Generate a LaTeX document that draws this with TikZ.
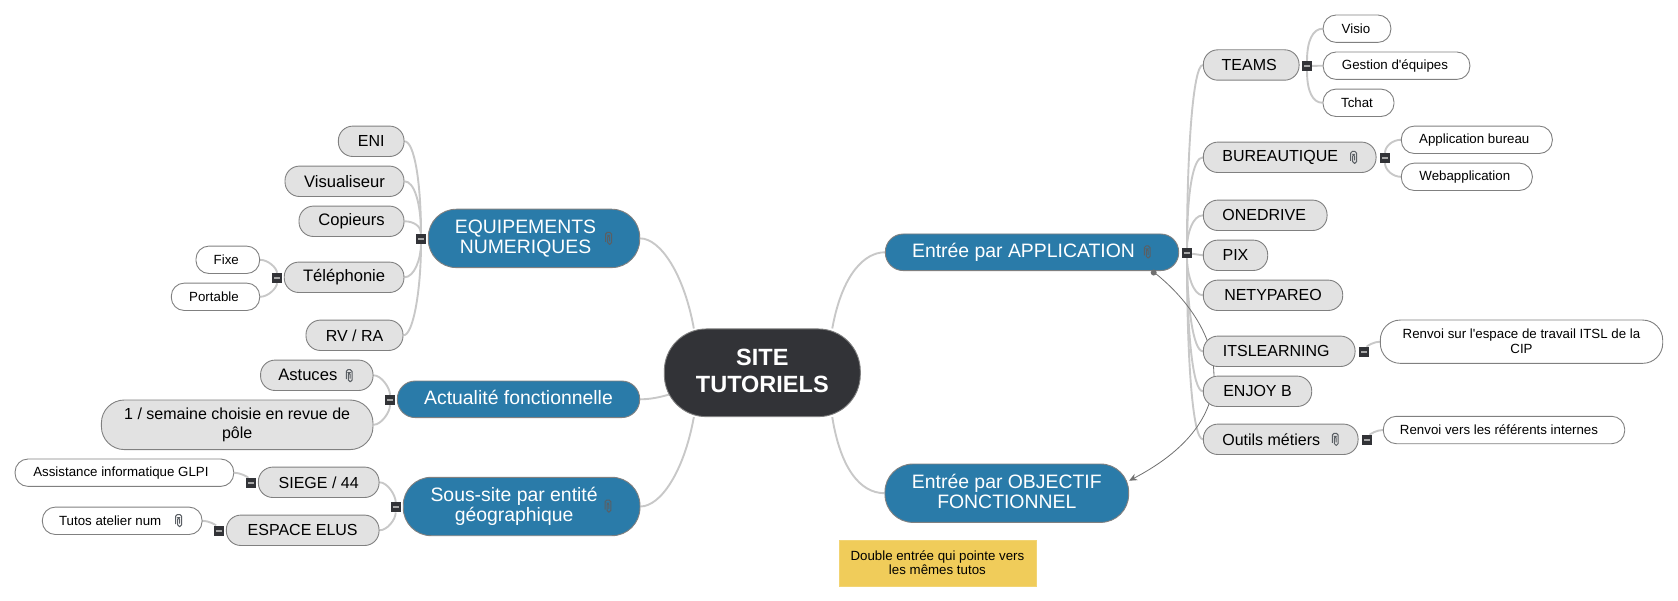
\documentclass[tikz,border=0pt]{standalone}
\usepackage{fontspec}
\setmainfont{Liberation Sans}
\newfontfamily\lfont{Liberation Sans}
\usetikzlibrary{arrows.meta}
\pgfdeclarelayer{bg}
\pgfsetlayers{bg,main}
\definecolor{bluec}{HTML}{2A7BA9}
\definecolor{darkc}{HTML}{323337}
\definecolor{greyc}{HTML}{E2E2E2}
\definecolor{edgec}{HTML}{808080}
\definecolor{linkc}{HTML}{C8C8C8}
\definecolor{relc}{HTML}{707070}
\definecolor{clipc}{HTML}{5A5F64}
\definecolor{notec}{HTML}{F0CC5A}
\definecolor{barc}{HTML}{A8A8A8}
\tikzset{
  base/.style={draw=edgec,line width=0.9pt,inner sep=0pt,align=center},
  rootn/.style={base,fill=darkc,text=white,rounded corners=42pt,minimum height=87.7pt,text depth=5pt,
    font=\lfont\bfseries\fontsize{23.5}{27}\selectfont},
  mainn/.style={base,fill=bluec,text=white,font=\lfont\fontsize{19.4}{20}\selectfont},
  subn/.style={base,fill=greyc,text=black,rounded corners=14.5pt,minimum height=30.4pt,
    font=\lfont\fontsize{16}{18.6}\selectfont},
  lowern/.style={font=\lfont\fontsize{16.6}{18.6}\selectfont},
  leafn/.style={base,fill=white,text=black,rounded corners=13pt,minimum height=27.4pt,
    font=\lfont\fontsize{13.3}{15}\selectfont},
  minusn/.style={inner sep=0pt,fill=darkc,minimum size=10pt,text=barc,font=\fontsize{1}{1}\selectfont},
  notenode/.style={fill=notec,draw=notec!85!white,line width=0.5pt,inner sep=0pt,align=center,text=black,
    font=\lfont\fontsize{13.3}{14.5}\selectfont},
  link/.style={draw=linkc,line width=1.9pt},
  rel/.style={draw=relc,line width=0.8pt},
  clipicon/.pic={\draw[clipc,line width=1pt,rounded corners=1.7pt]
    (0.8,3) -- (0.8,-3) -- (-1,-3) -- (-1,6) -- (2.8,6) -- (2.8,-6) -- (-3,-6) -- (-3,3.5);}
}
\newcommand{\mbar}{\rule{6pt}{2pt}}
\begin{document}
\begin{tikzpicture}[x=1pt,y=-1pt]
\useasboundingbox (0,0) rectangle (1678,601);
% root
\node[rootn,minimum width=196pt] (site) at (762.3,372.8) {SITE\\TUTORIELS};
% main
\node[mainn,minimum width=211.4pt,minimum height=58.4pt,rounded corners=28pt] (equip) at (534,238.4) {EQUIPEMENTS\kern17pt\\NUMERIQUES\kern17pt};
\node[mainn,minimum width=242.4pt,minimum height=36.6pt,rounded corners=18pt,text depth=3pt] (actu) at (518.5,399.3) {Actualité fonctionnelle};
\node[mainn,minimum width=236.7pt,minimum height=58.4pt,rounded corners=28pt] (sous) at (521.6,506.5) {Sous-site par entité\kern15pt\\géographique\kern15pt};
\node[mainn,minimum width=293.4pt,minimum height=36.6pt,rounded corners=18pt] (app) at (1032,252.3) {Entrée par APPLICATION\kern17pt};
\node[mainn,minimum width=243.7pt,minimum height=58.4pt,rounded corners=28pt,text depth=3pt] (obj) at (1006.8,493.2) {Entrée par OBJECTIF\\FONCTIONNEL};
% right sub
\node[subn,minimum width=95.7pt] (teams) at (1251.2,65) {TEAMS\kern4pt};
\node[subn,minimum width=172.7pt] (bur) at (1289.7,157.3) {BUREAUTIQUE\kern19pt};
\node[subn,minimum width=123.7pt] (one) at (1265.2,215.3) {ONEDRIVE\kern2pt};
\node[subn,minimum width=64.4pt] (pix) at (1235.5,255.3) {PIX};
\node[subn,minimum width=139.4pt] (net) at (1273,295.3) {NETYPAREO};
\node[subn,minimum width=151.7pt] (its) at (1279.2,351.3) {ITSLEARNING\kern6pt};
\node[subn,minimum width=108.4pt] (enj) at (1257.5,391.3) {ENJOY B};
\node[subn,minimum width=154.7pt] (out) at (1280.7,439.3) {Outils métiers\kern19pt};
% right leaves
\node[leafn,minimum width=67.7pt] (visio) at (1357,28.7) {Visio\kern2pt};
\node[leafn,minimum width=146.7pt] (gest) at (1396.5,65.7) {Gestion d'équipes\kern3pt};
\node[leafn,minimum width=71pt] (tchat) at (1358.5,102.8) {Tchat\kern3pt};
\node[leafn,minimum width=151pt] (appb) at (1476.8,139.8) {Application bureau\kern5pt};
\node[leafn,minimum width=131pt] (web) at (1466.8,176.8) {Webapplication\kern4pt};
\node[leafn,minimum width=282.4pt,minimum height=43.3pt,rounded corners=20pt] (renvA) at (1521.5,341.7) {Renvoi sur l'espace de travail ITSL de la\\CIP};
\node[leafn,minimum width=241.4pt] (renvB) at (1504,430) {Renvoi vers les référents internes\kern10pt};
% left sub
\node[subn,minimum width=65.7pt] (eni) at (371.2,141.3) {ENI};
\node[subn,lowern,minimum width=119pt] (vis) at (344.5,181.3) {Visualiseur};
\node[subn,lowern,minimum width=105pt] (cop) at (351.5,221.3) {Copieurs};
\node[subn,lowern,minimum width=119.7pt] (tel) at (344.1,277.3) {Téléphonie};
\node[subn,minimum width=97pt] (rv) at (354.5,335.3) {RV / RA};
\node[subn,lowern,minimum width=112.5pt] (ast) at (316.8,375.3) {Astuces\kern18pt};
\node[subn,minimum width=271.6pt,minimum height=49.6pt,rounded corners=23pt] (sem) at (237.2,424.8) {1 / semaine choisie en revue de\\pôle};
\node[subn,minimum width=120.7pt] (siege) at (318.7,482.3) {SIEGE / 44};
\node[subn,minimum width=152.7pt] (esp) at (302.7,530.3) {ESPACE ELUS};
% left leaves
\node[leafn,minimum width=63.7pt] (fixe) at (227.8,259.8) {Fixe\kern3pt};
\node[leafn,minimum width=88.4pt] (port) at (215.5,296.8) {Portable\kern3pt};
\node[leafn,minimum width=218.7pt] (assi) at (124.4,472.7) {Assistance informatique GLPI\kern7pt};
\node[leafn,minimum width=159.7pt] (tuto) at (122.2,520.8) {Tutos atelier num\kern24pt};
% note
\node[notenode,minimum width=196.7pt,minimum height=45.7pt] (note) at (937.4,562.9) {Double entrée qui pointe vers\\les mêmes tutos};
% collapse boxes
\node[minusn] (mteams) at (1307,66) {\mbar};
\node[minusn] (mbur) at (1385,158) {\mbar};
\node[minusn] (mapp) at (1187,253) {\mbar};
\node[minusn] (mits) at (1364,352) {\mbar};
\node[minusn] (mout) at (1367,440) {\mbar};
\node[minusn] (mequip) at (421,238.7) {\mbar};
\node[minusn] (mtel) at (277,278) {\mbar};
\node[minusn] (mactu) at (390,400) {\mbar};
\node[minusn] (msous) at (395.7,507.3) {\mbar};
\node[minusn] (msiege) at (251,483) {\mbar};
\node[minusn] (mesp) at (218.7,530.7) {\mbar};
% paperclips
\pic at (608.7,238.3) {clipicon};
\pic at (608,506) {clipicon};
\pic at (1147.3,252) {clipicon};
\pic at (1353.7,157.3) {clipicon};
\pic at (1335.3,439.3) {clipicon};
\pic at (349.3,375.7) {clipicon};
\pic at (178.7,520.5) {clipicon};
% connectors
\begin{pgfonlayer}{bg}
\path[link] ([xshift=30pt]site.north west) .. controls +(-10,-55) and +(20,0) .. (equip.east);
\path[link] ([xshift=6pt,yshift=-21.5pt]site.west) .. controls +(-10,3) and +(10,0) .. (actu.east);
\path[link] ([xshift=30pt]site.south west) .. controls +(-10,55) and +(20,0) .. (sous.east);
\path[link] ([xshift=-28.5pt]site.north east) .. controls +(10,-55) and +(-20,0) .. (app.west);
\path[link] ([xshift=-28.5pt]site.south east) .. controls +(8,50) and +(-25,0) .. (obj.west);
% application
\path[link] (mapp) .. controls +(0,-100) and +(-10,0) .. (teams.west);
\path[link] (mapp) .. controls +(0,-60) and +(-10,0) .. (bur.west);
\path[link] (mapp) .. controls +(0,-20) and +(-10,0) .. (one.west);
\path[link] (mapp) -- (pix.west);
\path[link] (mapp) .. controls +(0,20) and +(-10,0) .. (net.west);
\path[link] (mapp) .. controls +(0,50) and +(-10,0) .. (its.west);
\path[link] (mapp) .. controls +(0,80) and +(-10,0) .. (enj.west);
\path[link] (mapp) .. controls +(0,110) and +(-10,0) .. (out.west);
\path[link] (mteams) .. controls +(0,-25) and +(-10,0) .. (visio.west);
\path[link] (mteams) -- (gest.west);
\path[link] (mteams) .. controls +(0,25) and +(-10,0) .. (tchat.west);
\path[link] (mbur) .. controls +(0,-12) and +(-8,0) .. (appb.west);
\path[link] (mbur) .. controls +(0,12) and +(-8,0) .. (web.west);
\path[link] (mits) .. controls +(3,-6) and +(-6,0) .. (renvA.west);
\path[link] (mout) .. controls +(3,-6) and +(-6,0) .. (renvB.west);
% equipements
\path[link] (mequip) .. controls +(0,-55) and +(10,0) .. (eni.east);
\path[link] (mequip) .. controls +(0,-35) and +(10,0) .. (vis.east);
\path[link] (mequip) .. controls +(0,-12) and +(10,0) .. (cop.east);
\path[link] (mequip) .. controls +(0,20) and +(10,0) .. (tel.east);
\path[link] (mequip) .. controls +(0,50) and +(10,0) .. (rv.east);
\path[link] (mtel) .. controls +(0,-10) and +(8,0) .. (fixe.east);
\path[link] (mtel) .. controls +(0,10) and +(8,0) .. (port.east);
% actualite
\path[link] (mactu) .. controls +(0,-12) and +(8,0) .. (ast.east);
\path[link] (mactu) .. controls +(0,12) and +(8,0) .. (sem.east);
% sous-site
\path[link] (msous) .. controls +(0,-12) and +(8,0) .. (siege.east);
\path[link] (msous) .. controls +(0,12) and +(8,0) .. (esp.east);
\path[link] (msiege) .. controls +(-3,-6) and +(6,0) .. (assi.east);
\path[link] (mesp) .. controls +(-3,-6) and +(6,0) .. (tuto.east);
% relationship
\path[rel,-{Stealth[length=8pt,width=7pt]}] ([xshift=121.7pt,yshift=-1pt]app.south) .. controls +(65,51) and +(126.5,-66) .. ([yshift=12.5pt]obj.east);
\end{pgfonlayer}
\fill[relc] ([xshift=121.7pt,yshift=-1.5pt]app.south) circle[radius=3pt];
\end{tikzpicture}
\end{document}
